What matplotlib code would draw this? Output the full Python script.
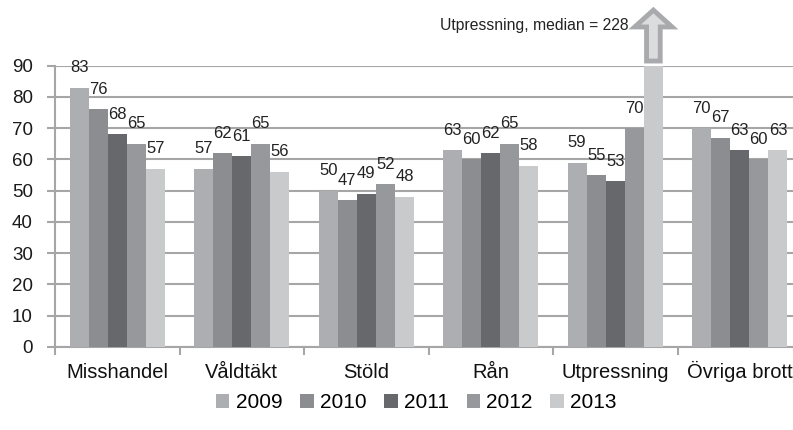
import numpy as np
import matplotlib
matplotlib.use("Agg")
import matplotlib.pyplot as plt
from matplotlib.patches import FancyArrow

plt.rcParams['font.family'] = ['Liberation Sans', 'DejaVu Sans']

categories = ['Misshandel', 'Våldtäkt', 'Stöld', 'Rån', 'Utpressning', 'Övriga brott']
years = ['2009', '2010', '2011', '2012', '2013']
values = {
    '2009': [83, 57, 50, 63, 59, 70],
    '2010': [76, 62, 47, 60, 55, 67],
    '2011': [68, 61, 49, 62, 53, 63],
    '2012': [65, 65, 52, 65, 70, 60],
    '2013': [57, 56, 48, 58, 228, 63],
}
colors = ['#adaeb1', '#8c8d91', '#67686c', '#97989c', '#c9cacc']
ymax = 90
median_note = 'Utpressning, median = 228'

fig = plt.figure(figsize=(7.93, 4.3), dpi=100)
# axes run past the right edge, like the cropped original
ax = fig.add_axes([0.0694, 0.1933, 0.942, 0.6539])

x = np.arange(len(categories))
w = 0.153
for j, yr in enumerate(years):
    vals = np.array(values[yr])
    pos = x + (j - 2) * w
    shown = np.minimum(vals, ymax)
    ax.bar(pos, shown, width=w, color=colors[j], label=yr, zorder=3)
    for p, v in zip(pos, vals):
        if v > ymax:
            continue
        ax.annotate(str(v), (p, v), xytext=(0, 20), textcoords='offset pixels',
                    ha='center', va='center', fontsize=12, color='#222222')

# arrow for the clipped Utpressning 2013 bar
ui = categories.index('Utpressning')
ax_x = ui + 2 * w
arr = FancyArrow(ax_x, 91.5, 0, 16.3, width=0.11, head_width=0.3, head_length=5.4,
                 length_includes_head=True, facecolor='#dcdcde', edgecolor='#a9aaad',
                 linewidth=3.5, clip_on=False, zorder=5)
ax.add_patch(arr)
ax.text(ax_x - 0.2, 103, median_note, ha='right', va='center', fontsize=11.3,
        color='#222222', clip_on=False)

ax.set_ylim(0, ymax)
ax.set_xlim(-0.5, len(categories) - 0.5)
ax.set_yticks(np.arange(0, ymax + 1, 10))
ax.yaxis.grid(True, color='#a6a6a6', linewidth=1.5, zorder=0)
ax.set_axisbelow(True)

ax.set_xticks(np.arange(-0.5, len(categories), 1.0))
ax.set_xticklabels([])
ax.tick_params(axis='x', which='major', length=6, width=1.5, color='#a6a6a6')
ax.tick_params(axis='y', length=6, width=1.5, color='#a6a6a6', labelsize=13.5,
               labelcolor='#1a1a1a', pad=10)
# category names on a common baseline
trans = ax.get_xaxis_transform()
for i, c in enumerate(categories):
    ax.text(i, -0.112, c, transform=trans, ha='center', va='baseline',
            fontsize=14.5, color='#111111', clip_on=False)

for s in ['top', 'right']:
    ax.spines[s].set_visible(False)
for s in ['left', 'bottom']:
    ax.spines[s].set_color('#a6a6a6')
    ax.spines[s].set_linewidth(1.5)

fig.legend(loc='center', bbox_to_anchor=(0.525, 0.063), ncol=5, frameon=False,
           fontsize=15, handlelength=0.65, handleheight=0.65, handletextpad=0.3,
           columnspacing=0.85)

fig.savefig('out.png', dpi=100)
